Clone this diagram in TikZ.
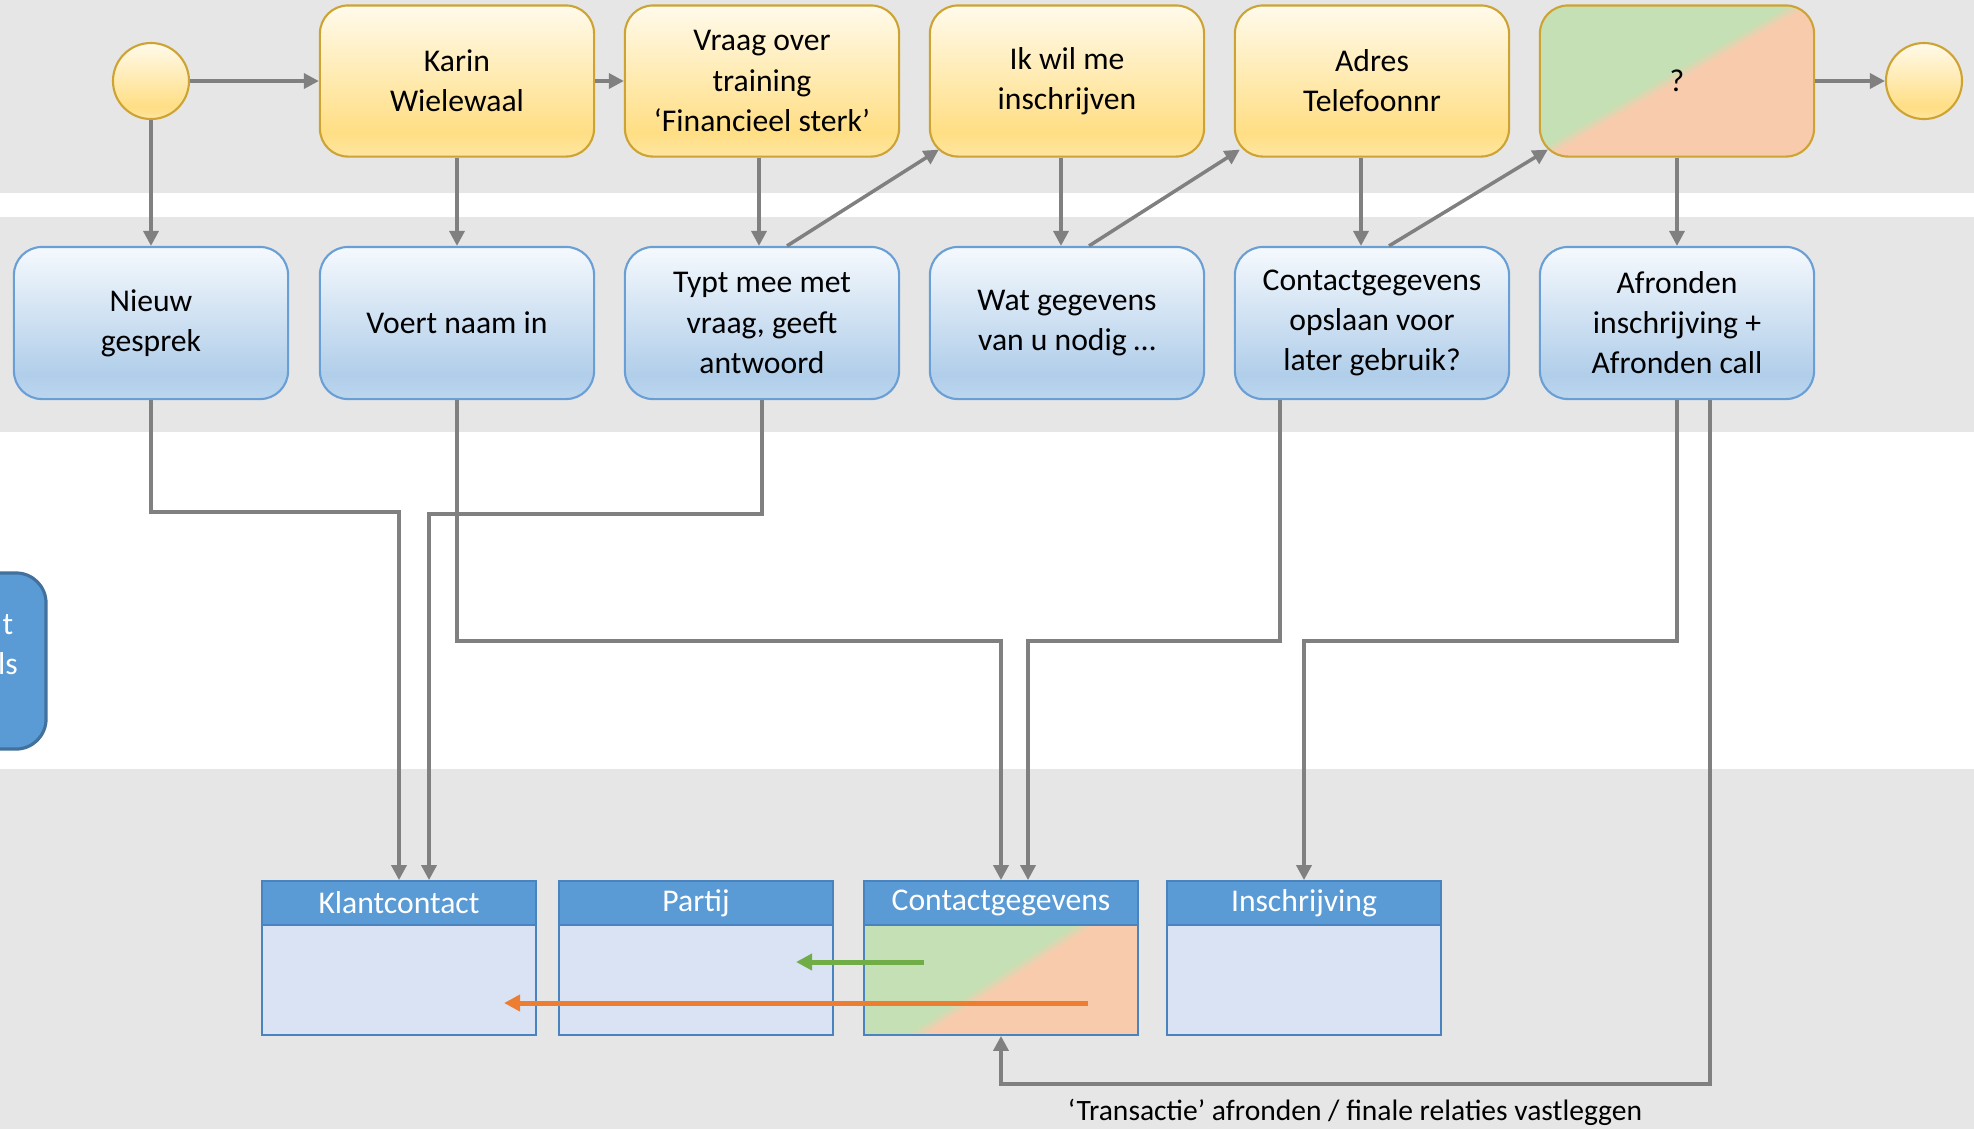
\documentclass[tikz,border=0pt]{standalone}
\usepackage{fontspec}
\setmainfont{Carlito}
\usetikzlibrary{arrows, arrows.meta}

\definecolor{bandgrijs}{HTML}{E6E6E6}
\definecolor{lijngrijs}{HTML}{808080}
\definecolor{geelrand}{HTML}{CDA434}
\definecolor{geelboven}{HTML}{FFFAEB}
\definecolor{geelonder}{HTML}{FFDE84}
\definecolor{geelvoet}{HTML}{FFE6A0}
\definecolor{blauwrand}{HTML}{6A9FD5}
\definecolor{blauwboven}{HTML}{F5F9FD}
\definecolor{blauwonder}{HTML}{B1CEEA}
\definecolor{blauwvoet}{HTML}{BCD6EE}
\definecolor{kopblauw}{HTML}{5B9BD5}
\definecolor{kaderblauw}{HTML}{4A84C0}
\definecolor{lichtblauw}{HTML}{DAE3F3}
\definecolor{donkerrand}{HTML}{41719C}
\definecolor{groenvlak}{HTML}{C5E0B4}
\definecolor{oranjevlak}{HTML}{F8CBAD}
\definecolor{groenpijl}{HTML}{70AD47}
\definecolor{oranjepijl}{HTML}{ED7D31}

\pgfdeclareverticalshading{geelverloop}{100bp}{color(0bp)=(geelvoet); color(25bp)=(geelvoet); color(33bp)=(geelonder); color(75bp)=(geelboven); color(100bp)=(geelboven)}
\pgfdeclareverticalshading{blauwverloop}{100bp}{color(0bp)=(blauwvoet); color(25bp)=(blauwvoet); color(33bp)=(blauwonder); color(75bp)=(blauwboven); color(100bp)=(blauwboven)}
\pgfdeclareverticalshading{groenoranje}{100bp}{color(0bp)=(oranjevlak); color(48.6bp)=(oranjevlak); color(52bp)=(groenvlak); color(100bp)=(groenvlak)}
\pgfdeclareverticalshading{vraagverloop}{100bp}{color(0bp)=(oranjevlak); color(49.8bp)=(oranjevlak); color(52.8bp)=(groenvlak); color(100bp)=(groenvlak)}

\newcommand{\tekst}{\fontsize{9pt}{11.4pt}\selectfont}
\newcommand{\voettekst}{\fontsize{8.4pt}{10pt}\selectfont}

\tikzset{
  geelblok/.style={rectangle, rounded corners=0.28cm, draw=geelrand, line width=0.6pt, shade, shading=geelverloop, minimum width=2.74cm, minimum height=1.51cm, align=center, font=\tekst},
  geelrond/.style={circle, draw=geelrand, line width=0.6pt, shade, shading=geelverloop, minimum size=0.76cm, inner sep=0pt},
  blauwblok/.style={rectangle, rounded corners=0.28cm, draw=blauwrand, line width=0.6pt, shade, shading=blauwverloop, minimum width=2.74cm, minimum height=1.52cm, align=center, font=\tekst},
  tabelkop/.style={rectangle, fill=kopblauw, draw=kaderblauw, line width=0.5pt, minimum width=2.74cm, minimum height=0.44cm, inner sep=0pt, text=white, font=\tekst},
  tabellijf/.style={rectangle, fill=lichtblauw, draw=kaderblauw, line width=0.5pt, minimum width=2.74cm, minimum height=1.10cm, inner sep=0pt},
  kanaalblok/.style={rectangle, rounded corners=0.3cm, fill=kopblauw, draw=donkerrand, line width=0.9pt, minimum width=2cm, minimum height=1.76cm},
  kanaaltekst/.style={align=center, text=white, inner sep=0pt, font=\tekst},
  verbinding/.style={draw=lijngrijs, line width=0.035cm, -{Triangle[length=0.15cm, width=0.15cm]}},
  groenestreep/.style={draw=groenpijl, line width=0.05cm, -{Triangle[length=0.16cm, width=0.16cm]}},
  oranjestreep/.style={draw=oranjepijl, line width=0.05cm, -{Triangle[length=0.16cm, width=0.16cm]}},
  tekstlabel/.style={inner sep=0pt, font=\voettekst}
}

\begin{document}
\begin{tikzpicture}[x=0.01cm, y=-0.01cm]
%\draw[step=100,gray,very thin] (0,0) grid (1974,1129); %background grid
\useasboundingbox (0,0) rectangle (1974,1129);

\fill[bandgrijs] (0,0)   rectangle (1974,193);
\fill[bandgrijs] (0,217) rectangle (1974,432);
\fill[bandgrijs] (0,769) rectangle (1974,1129);

\begin{scope}
\clip (0,0) rectangle (1974,1129);
\node[kanaalblok] (kanaal) at (-54,661) {};
\node[kanaaltekst] (kanaalnaam) at (8,645) {t\\ls};
\end{scope}

\node[geelrond] (begin)    at (151,81)  {};
\node[geelblok] (karin)    at (457,81)  {Karin\\Wielewaal};
\node[geelblok] (vraag)    at (762,81)  {Vraag over\\training\\‘Financieel sterk’};
\node[geelblok] (wens)     at (1067,81) {Ik wil me\\inschrijven};
\node[geelblok] (adres)    at (1372,81) {Adres\\Telefoonnr};
\node[geelblok, shading=vraagverloop, shading angle=30] (onbekend) at (1677,81) {?};
\node[geelrond] (einde)    at (1924,81) {};

\node[blauwblok] (nieuw)    at (151,323)  {Nieuw\\gesprek};
\node[blauwblok] (voert)    at (457,323)  {Voert naam in};
\node[blauwblok] (typt)     at (762,323)  {Typt mee met\\vraag, geeft\\antwoord};
\node[blauwblok] (wat)      at (1067,323) {Wat gegevens\\van u nodig …};
\node[blauwblok] (opslaan)  at (1372,323) {Contactgegevens\\opslaan voor\\later gebruik?};
\node[blauwblok] (afronden) at (1677,323) {Afronden\\inschrijving +\\Afronden call};

\node[tabellijf] (klantlijf)    at (399,980)  {};
\node[tabellijf] (partijlijf)   at (696,980)  {};
\node[tabellijf, shade, shading=groenoranje, shading angle=33] (contactlijf) at (1001,980) {};
\node[tabellijf] (inschrijflijf) at (1304,980) {};
\node[tabelkop] (klantkop)     at (399,903)  {Klantcontact};
\node[tabelkop] (partijkop)    at (696,903)  {Partij};
\node[tabelkop] (contactkop)   at (1001,903) {Contactgegevens};
\node[tabelkop] (inschrijfkop) at (1304,903) {Inschrijving};

\draw[verbinding] (begin) -- (karin);
\draw[verbinding] (karin) -- (vraag);
\draw[verbinding] (onbekend) -- (einde);

\draw[verbinding] (begin) -- (nieuw);
\draw[verbinding] (karin) -- (voert);
\draw[verbinding] ([xshift=-0.03cm]vraag.south) -- ([xshift=-0.03cm]typt.north);
\draw[verbinding] ([xshift=-0.06cm]wens.south) -- ([xshift=-0.06cm]wat.north);
\draw[verbinding] ([xshift=-0.11cm]adres.south) -- ([xshift=-0.11cm]opslaan.north);
\draw[verbinding] (onbekend) -- (afronden);

\draw[verbinding] ([xshift=0.25cm]typt.north)    -- ([shift={(0.10cm,0.08cm)}]wens.south west);
\draw[verbinding] ([xshift=0.22cm]wat.north)     -- ([shift={(0.06cm,0.08cm)}]adres.south west);
\draw[verbinding] ([xshift=0.17cm]opslaan.north) -- ([shift={(0.09cm,0.08cm)}]onbekend.south west);

\draw[verbinding] (nieuw.south) -- ++(0,112) -| (klantkop.north);
\draw[verbinding] (typt.south)  -- ++(0,114) -| ([xshift=0.3cm]klantkop.north);
\draw[verbinding] (voert.south) -- ++(0,241) -| (contactkop.north);
\draw[verbinding] ([xshift=-0.92cm]opslaan.south) -- ++(0,241) -| ([xshift=0.27cm]contactkop.north);
\draw[verbinding] (afronden.south) -- ++(0,241) -| (inschrijfkop.north);
\draw[verbinding] ([xshift=0.33cm]afronden.south) -- ++(0,684) -| (contactlijf.south);

\draw[groenestreep] ([shift={(-0.77cm,0.18cm)}]contactlijf.center) -- ([shift={(1.00cm,0.18cm)}]partijlijf.center);
\draw[oranjestreep] ([shift={(0.87cm,-0.23cm)}]contactlijf.center) -- ([shift={(1.05cm,-0.23cm)}]klantlijf.center);

\node[tekstlabel] (transactie) at (1355,1112) {‘Transactie’ afronden / finale relaties vastleggen};

\end{tikzpicture}
\end{document}
